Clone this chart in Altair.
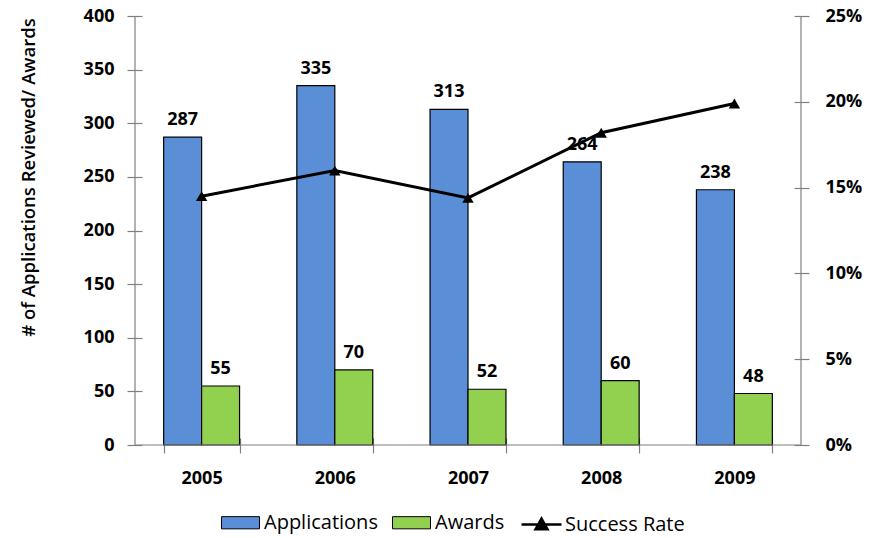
import altair as alt
import pandas as pd

# ---- data -------------------------------------------------------------
years = ["2005", "2006", "2007", "2008", "2009"]
applications = [287, 335, 313, 264, 238]
awards = [55, 70, 52, 60, 48]
success_rate = [0.145, 0.160, 0.144, 0.182, 0.199]

series_names = ["Applications", "Awards"]
series_colors = ["#5A8ED7", "#92D050"]
left_ticks = [0, 50, 100, 150, 200, 250, 300, 350, 400]
right_ticks = [0, 0.05, 0.10, 0.15, 0.20, 0.25]

bars_df = pd.DataFrame({
    "year": years * 2,
    "series": [series_names[0]] * len(years) + [series_names[1]] * len(years),
    "value": applications + awards,
})
rate_df = pd.DataFrame({"year": years, "rate": success_rate, "label": "Success Rate"})

# ---- layout / style ---------------------------------------------------
W, H = 666, 429
FONT = "Open Sans"
AXIS_GREY = "#808080"

x_enc = alt.X(
    "year:N", sort=years,
    scale=alt.Scale(paddingInner=0.43, paddingOuter=0.215),
    axis=alt.Axis(title=None, tickBand="extent", offset=-7, tickSize=15,
                  domain=False, labelPadding=16, labelAngle=0,
                  labelFontSize=18, labelFontWeight="bold"),
)

y_left = alt.Y(
    "value:Q",
    scale=alt.Scale(domain=[0, 400], nice=False, zero=True),
    axis=alt.Axis(values=left_ticks, offset=-7, tickSize=15, domain=False,
                  labelPadding=13, labelFontSize=18, labelFontWeight="bold",
                  title="# of Applications Reviewed/ Awards",
                  titleFontSize=18.5, titleFontWeight=600,
                  titleAngle=-90, titleBaseline="middle",
                  titleX=-114, titleY=161),
)

y_right = alt.Y(
    "rate:Q",
    scale=alt.Scale(domain=[0, 0.25], nice=False, zero=True),
    axis=alt.Axis(orient="right", values=right_ticks, format=".0%",
                  offset=-7, tickSize=15, domain=False, labelPadding=16,
                  labelFontSize=18, labelFontWeight="bold", title=None),
)

bar_swatch = "M-1,-0.32H1V0.32H-1Z"
line_swatch = "M-1,0H1M-0.3,0.24L0,-0.3L0.3,0.24Z"

# ---- bars + value labels (left scale) ---------------------------------
bars = alt.Chart(bars_df).mark_bar(stroke="black", strokeWidth=1.2).encode(
    x=x_enc,
    xOffset=alt.XOffset("series:N", sort=series_names,
                        scale=alt.Scale(paddingInner=0, paddingOuter=0)),
    y=y_left,
    color=alt.Color(
        "series:N", sort=series_names,
        scale=alt.Scale(domain=series_names, range=series_colors),
        legend=alt.Legend(title=None, orient="none", direction="horizontal",
                          legendX=86, legendY=487, symbolType=bar_swatch,
                          symbolSize=1444, symbolStrokeColor="black",
                          symbolStrokeWidth=1, labelFontSize=20,
                          labelOffset=4, columnPadding=12),
    ),
)

bar_labels = alt.Chart(bars_df).mark_text(
    baseline="alphabetic", dy=-12, fontSize=18, fontWeight="bold",
    font=FONT, color="black",
).encode(
    x=x_enc,
    xOffset=alt.XOffset("series:N", sort=series_names,
                        scale=alt.Scale(paddingInner=0, paddingOuter=0)),
    y=y_left,
    text=alt.Text("value:Q"),
)

left = alt.layer(bars, bar_labels)

# ---- success-rate line (right scale) ----------------------------------
rate_line = alt.Chart(rate_df).mark_line(strokeWidth=3).encode(
    x=x_enc,
    y=y_right,
    color=alt.Color(
        "label:N",
        scale=alt.Scale(domain=["Success Rate"], range=["black"]),
        legend=alt.Legend(title=None, orient="none", direction="horizontal",
                          legendX=385, legendY=487, symbolType=line_swatch,
                          symbolSize=1600, symbolStrokeWidth=2.5,
                          symbolFillColor="black", labelFontSize=20,
                          labelOffset=2),
    ),
)

rate_points = alt.Chart(rate_df).mark_point(
    shape="triangle-up", filled=True, size=130, color="black", opacity=1,
).encode(x=x_enc, y=y_right)

right = alt.layer(rate_line, rate_points)

# ---- axis lines (left, right, bottom) ---------------------------------
frame = alt.Data(values=[{}])
left_line = alt.Chart(frame).mark_rule(color=AXIS_GREY, strokeWidth=1.2).encode(
    x=alt.value(0), y=alt.value(0), y2=alt.value(H))
right_line = alt.Chart(frame).mark_rule(color=AXIS_GREY, strokeWidth=1.2).encode(
    x=alt.value(W), y=alt.value(0), y2=alt.value(H))
base_line = alt.Chart(frame).mark_rule(color=AXIS_GREY, strokeWidth=1.2).encode(
    x=alt.value(0), x2=alt.value(W), y=alt.value(H))

chart = alt.layer(left, right, left_line, right_line, base_line).resolve_scale(
    y="independent", color="independent",
).properties(
    width=W, height=H,
    autosize=alt.AutoSizeParams(type="none"),
    padding={"left": 135, "top": 16, "right": 84, "bottom": 93},
    background="white",
).configure_view(
    stroke=None,
).configure_axis(
    grid=False, labelFont=FONT, titleFont=FONT, labelColor="black",
    titleColor="black", tickColor=AXIS_GREY, tickWidth=1.2,
).configure_legend(
    labelFont=FONT, labelColor="black",
)

chart.save("out.html", embed_options={"renderer": "svg", "actions": False})
